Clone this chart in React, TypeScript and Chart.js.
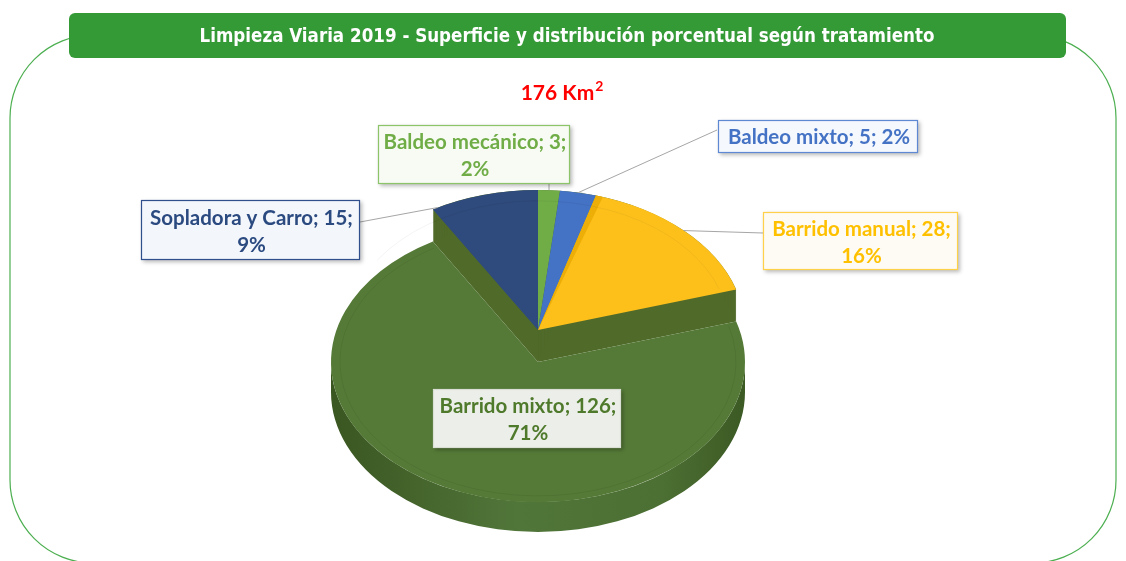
import React, { useEffect, useRef } from 'react';
import { Chart, registerables } from 'chart.js';

Chart.register(...registerables);

// ---------- data ----------
const categories = ['Baldeo mecánico', 'Baldeo mixto', 'Barrido manual', 'Barrido mixto', 'Sopladora y Carro'];
const values = [3, 5, 28, 126, 15];
const percentLabels = ['2%', '2%', '16%', '71%', '9%'];
const sliceColors = ['#70AD47', '#4472C4', '#FDC01B', '#557A37', '#2F4A7C'];
const titleText = 'Limpieza Viaria 2019 - Superficie y distribución porcentual según tratamiento';
const totalText = '176 Km';
const totalSup = '2';

// ---------- layout / style ----------
const W = 1126;
const H = 561;
const TILT = 140 / 207;
const DROP = 32; // the big slice sits lower (exploded towards the viewer)
const SIDE = 30; // side thickness
const FOCUS = 3;
const WALL = '#506a2a';
const LABEL_FONT = 'bold 20.5px Lato, "Open Sans", sans-serif';

const labelLayout = [
  { x: 378, y: 125, w: 192, h: 59, single: false, color: '#70AD47', fill: '#F7FBF3', border: '#8CC46A', from: [549, 184], at: 0.5 },
  { x: 718, y: 120, w: 200, h: 33, single: true, color: '#4472C4', fill: '#F5F8FD', border: '#5E88D2', from: [717, 130], at: 0.5 },
  { x: 763, y: 212, w: 195, h: 58, single: false, color: '#FFC000', fill: '#FDFBF4', border: '#FFD04A', from: [763, 233], at: 0.5 },
  { x: 433, y: 389, w: 188, h: 59, single: false, color: '#4F7A2C', fill: '#ECEEE9', border: '#DADFD5', from: null, at: 0.5 },
  { x: 141, y: 200, w: 219, h: 60, single: false, color: '#2B4A80', fill: '#F3F6FB', border: '#2F4F8C', from: [360, 222], at: 0.05 },
];

function roundRect(ctx: CanvasRenderingContext2D, x: number, y: number, w: number, h: number, r: number) {
  ctx.beginPath();
  ctx.moveTo(x + r, y);
  ctx.lineTo(x + w - r, y);
  ctx.arcTo(x + w, y, x + w, y + r, r);
  ctx.lineTo(x + w, y + h - r);
  ctx.arcTo(x + w, y + h, x + w - r, y + h, r);
  ctx.lineTo(x + r, y + h);
  ctx.arcTo(x, y + h, x, y + h - r, r);
  ctx.lineTo(x, y + r);
  ctx.arcTo(x, y, x + r, y, r);
  ctx.closePath();
}

const backdrop = {
  id: 'backdrop',
  beforeDraw(chart: any) {
    const ctx: CanvasRenderingContext2D = chart.ctx;
    ctx.save();
    ctx.fillStyle = '#ffffff';
    ctx.fillRect(0, 0, W, H);
    // outer rounded frame
    ctx.strokeStyle = '#4CAF50';
    ctx.lineWidth = 1.2;
    roundRect(ctx, 10, 35, 1106, 528, 83);
    ctx.stroke();
    // title banner
    ctx.fillStyle = '#349A36';
    roundRect(ctx, 69, 13, 997, 45, 6);
    ctx.fill();
    ctx.fillStyle = '#ffffff';
    ctx.font = 'bold 19px "Liberation Sans Narrow", "DejaVu Sans Condensed", sans-serif';
    ctx.textBaseline = 'middle';
    ctx.textAlign = 'center';
    const mw = ctx.measureText(titleText).width;
    const sx = 735 / mw;
    ctx.save();
    ctx.translate(567, 37);
    ctx.scale(sx, 1);
    ctx.fillText(titleText, 0, 0);
    ctx.restore();
    // total
    ctx.fillStyle = '#FF0000';
    ctx.font = 'bold 21px Lato, "Open Sans", sans-serif';
    ctx.textAlign = 'left';
    const tw = ctx.measureText(totalText).width;
    ctx.font = 'bold 14px Lato, "Open Sans", sans-serif';
    const sw = ctx.measureText(totalSup).width;
    const startX = 562 - (tw + sw + 1) / 2;
    ctx.font = 'bold 21px Lato, "Open Sans", sans-serif';
    ctx.fillText(totalText, startX, 93);
    ctx.font = 'bold 14px Lato, "Open Sans", sans-serif';
    ctx.fillText(totalSup, startX + tw + 1, 86);
    ctx.restore();
  },
};

const pie3d = {
  id: 'pie3d',
  beforeDatasetsDraw(chart: any) {
    const ctx: CanvasRenderingContext2D = chart.ctx;
    const arcs: any[] = chart.getDatasetMeta(0).data;
    if (!arcs.length) return;
    const cx = arcs[0].x;
    const cy = arcs[0].y;
    const r = arcs[0].outerRadius;
    const withT = (dy: number, fn: () => void) => {
      ctx.save();
      ctx.translate(cx, cy + dy);
      ctx.scale(1, TILT);
      ctx.translate(-cx, -cy);
      fn();
      ctx.restore();
    };
    const focus = arcs[FOCUS];

    // side band of the dropped big slice (front half only)
    const t0 = Math.max(focus.startAngle, 0);
    const t1 = Math.min(focus.endAngle, Math.PI);
    if (t1 > t0) {
      const ry = r * TILT;
      const yTop = cy + DROP;
      ctx.save();
      ctx.beginPath();
      ctx.ellipse(cx, yTop, r, ry, 0, t0, t1, false);
      ctx.lineTo(cx + r * Math.cos(t1), yTop + SIDE + ry * Math.sin(t1));
      ctx.ellipse(cx, yTop + SIDE, r, ry, 0, t1, t0, true);
      ctx.closePath();
      const g = ctx.createLinearGradient(cx - r, 0, cx + r, 0);
      g.addColorStop(0, '#3A5621');
      g.addColorStop(0.45, '#51763A');
      g.addColorStop(0.8, '#4C6F33');
      g.addColorStop(1, '#3C5A24');
      ctx.fillStyle = g;
      ctx.fill();
      ctx.restore();
    }

    // walls under the raised slices
    arcs.forEach((a, i) => {
      if (i === FOCUS) return;
      for (let dy = 0; dy <= DROP; dy += 1) {
        withT(dy, () => {
          ctx.beginPath();
          ctx.moveTo(cx, cy);
          ctx.arc(cx, cy, r, a.startAngle, a.endAngle);
          ctx.closePath();
          ctx.fillStyle = WALL;
          ctx.fill();
        });
      }
    });

    // top face of the big slice
    withT(DROP, () => focus.draw(ctx));
    withT(DROP, () => {
      ctx.beginPath();
      ctx.arc(cx, cy, r - 9, focus.startAngle + 0.02, focus.endAngle - 0.02);
      ctx.strokeStyle = 'rgba(0,0,0,0.08)';
      ctx.lineWidth = 1;
      ctx.stroke();
    });

    // top faces of the other slices
    arcs.forEach((a, i) => {
      if (i === FOCUS) return;
      withT(0, () => a.draw(ctx));
    });
    // shaded radial face on the left edge of the slightly exploded yellow slice
    const y = arcs[2];
    withT(0, () => {
      ctx.beginPath();
      ctx.moveTo(cx, cy);
      ctx.arc(cx, cy, r, y.startAngle, y.startAngle + 0.035);
      ctx.closePath();
      ctx.fillStyle = '#EDAE08';
      ctx.fill();
    });
    withT(0, () => {
      ctx.beginPath();
      ctx.arc(cx, cy, r - 16, -Math.PI / 2 - 1.0, focus.startAngle - 0.03);
      ctx.strokeStyle = 'rgba(0,0,0,0.06)';
      ctx.lineWidth = 1;
      ctx.stroke();
    });
    return false;
  },
};

const labels3d = {
  id: 'labels3d',
  afterDraw(chart: any) {
    const ctx: CanvasRenderingContext2D = chart.ctx;
    const arcs: any[] = chart.getDatasetMeta(0).data;
    if (!arcs.length) return;
    const cx = arcs[0].x;
    const cy = arcs[0].y;
    const r = arcs[0].outerRadius;
    ctx.save();
    // leader lines
    labelLayout.forEach((L, i) => {
      if (!L.from) return;
      const a = arcs[i];
      const th = a.startAngle + L.at * (a.endAngle - a.startAngle);
      const px = cx + r * Math.cos(th);
      const py = cy + r * TILT * Math.sin(th);
      ctx.beginPath();
      ctx.moveTo(L.from[0], L.from[1]);
      ctx.lineTo(px, py);
      ctx.strokeStyle = '#A6A6A6';
      ctx.lineWidth = 1;
      ctx.stroke();
    });
    // boxes
    labelLayout.forEach((L, i) => {
      ctx.save();
      ctx.shadowColor = 'rgba(0,0,0,0.28)';
      ctx.shadowBlur = 4;
      ctx.shadowOffsetX = 2;
      ctx.shadowOffsetY = 2;
      ctx.fillStyle = L.fill;
      ctx.fillRect(L.x, L.y, L.w, L.h);
      ctx.restore();
      ctx.strokeStyle = L.border;
      ctx.lineWidth = 1.2;
      ctx.strokeRect(L.x + 0.5, L.y + 0.5, L.w - 1, L.h - 1);
      ctx.fillStyle = L.color;
      ctx.font = LABEL_FONT;
      ctx.textAlign = 'center';
      ctx.textBaseline = 'middle';
      const mx = L.x + L.w / 2 + 1;
      const first = `${categories[i]}; ${values[i]};`;
      if (L.single) {
        ctx.fillText(`${first} ${percentLabels[i]}`, mx, L.y + L.h / 2 + 1);
      } else {
        ctx.fillText(first, mx, L.y + L.h / 2 - 12);
        ctx.fillText(percentLabels[i], mx, L.y + L.h / 2 + 15);
      }
    });
    ctx.restore();
  },
};

export default function App() {
  const ref = useRef<HTMLCanvasElement | null>(null);
  useEffect(() => {
    if (!ref.current) return;
    const chart = new Chart(ref.current, {
      type: 'pie',
      data: {
        labels: categories,
        datasets: [
          {
            data: values,
            backgroundColor: sliceColors,
            borderWidth: 0,
          },
        ],
      },
      options: {
        responsive: false,
        animation: false,
        events: [],
        rotation: 0,
        layout: { padding: { left: 331, right: 381, top: 123, bottom: 24 } },
        plugins: {
          legend: { display: false },
          tooltip: { enabled: false },
          title: { display: false },
        },
      },
      plugins: [backdrop, pie3d, labels3d],
    });
    return () => chart.destroy();
  }, []);
  return (
    <div style={{ position: 'absolute', left: 0, top: 0, width: W, height: H, background: '#fff' }}>
      <canvas ref={ref} width={W} height={H} style={{ display: 'block' }} />
    </div>
  );
}
